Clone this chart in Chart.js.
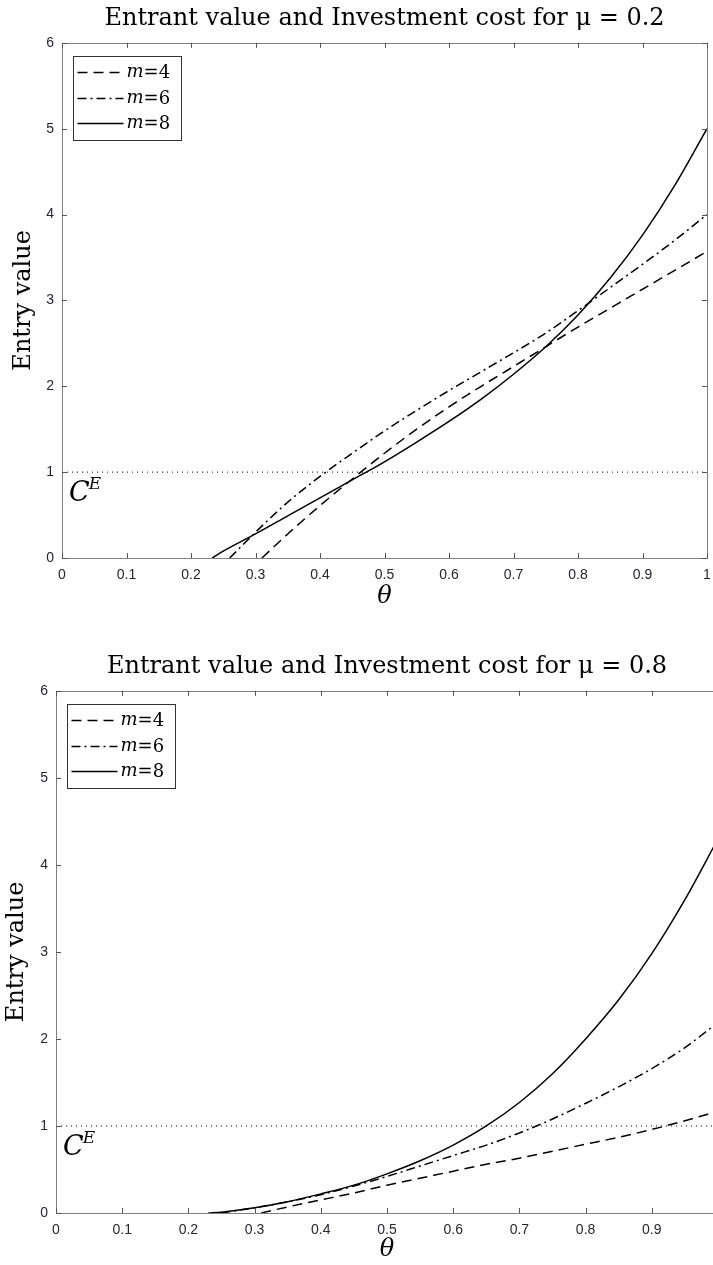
<!DOCTYPE html>
<html>
<head>
<meta charset="utf-8">
<title>Entrant value and Investment cost</title>
<script src="https://cdn.jsdelivr.net/npm/chart.js@4.4.1/dist/chart.umd.min.js"></script>
<style>
    html, body { margin: 0; padding: 0; background: #ffffff; overflow: hidden; }
    #page { position: relative; width: 713px; height: 1265px; overflow: hidden; }
    #topBox { position: absolute; left: 0; top: 0; }
    #bottomBox { position: absolute; left: 0; top: 648px; }
</style>
</head>
<body>
<div id="page">
    <div id="topBox"><canvas id="topChart" width="713" height="613"></canvas></div>
    <div id="bottomBox"><canvas id="bottomChart" width="725" height="617"></canvas></div>
</div>

<script>
// ── Data ─────────────────────────────────────────────────────
const seriesLabels = ['m=4', 'm=6', 'm=8'];
const xTickValues  = [0, 0.1, 0.2, 0.3, 0.4, 0.5, 0.6, 0.7, 0.8, 0.9, 1];
const yTickValues  = [0, 1, 2, 3, 4, 5, 6];
const ceLevel      = 1;            // investment cost C^E
const ceRange      = [0, 1];       // theta span of the dotted cost line

// mu = 0.2
const thetaM4Mu02 = [0.31, 0.35, 0.4, 0.45, 0.5, 0.55, 0.6, 0.65, 0.7, 0.75, 0.8, 0.85, 0.9, 0.95, 1.0];
const valueM4Mu02 = [0, 0.28, 0.61, 0.92, 1.22, 1.5, 1.76, 2.0, 2.23, 2.46, 2.69, 2.91, 3.13, 3.35, 3.57];
const thetaM6Mu02 = [0.26, 0.3, 0.35, 0.4, 0.45, 0.5, 0.55, 0.6, 0.65, 0.7, 0.75, 0.8, 0.85, 0.9, 0.95, 1.0];
const valueM6Mu02 = [0, 0.3, 0.65, 0.95, 1.22, 1.48, 1.72, 1.95, 2.17, 2.39, 2.62, 2.88, 3.15, 3.42, 3.7, 4.0];
const thetaM8Mu02 = [0.233, 0.25, 0.3, 0.35, 0.4, 0.45, 0.5, 0.55, 0.6, 0.65, 0.7, 0.75, 0.8, 0.85, 0.9, 0.95, 1.0];
const valueM8Mu02 = [0, 0.08, 0.28, 0.49, 0.7, 0.91, 1.12, 1.35, 1.59, 1.85, 2.14, 2.46, 2.83, 3.26, 3.76, 4.34, 5.0];

// mu = 0.8
const thetaM4Mu08 = [0.31, 0.35, 0.4, 0.45, 0.5, 0.55, 0.6, 0.65, 0.7, 0.75, 0.8, 0.85, 0.9, 0.95, 1.0];
const valueM4Mu08 = [0, 0.07, 0.15, 0.23, 0.32, 0.4, 0.48, 0.56, 0.63, 0.71, 0.79, 0.87, 0.96, 1.06, 1.17];
const thetaM6Mu08 = [0.25, 0.3, 0.35, 0.4, 0.45, 0.5, 0.55, 0.6, 0.65, 0.7, 0.75, 0.8, 0.85, 0.9, 0.95, 1.0];
const valueM6Mu08 = [0, 0.06, 0.13, 0.21, 0.31, 0.42, 0.54, 0.66, 0.78, 0.92, 1.08, 1.26, 1.45, 1.66, 1.9, 2.19];
const thetaM8Mu08 = [0.23, 0.25, 0.3, 0.35, 0.4, 0.45, 0.5, 0.55, 0.6, 0.65, 0.7, 0.75, 0.8, 0.85, 0.9, 0.95, 1.0];
const valueM8Mu08 = [0, 0.01, 0.06, 0.13, 0.22, 0.32, 0.45, 0.6, 0.78, 1.0, 1.27, 1.6, 2.0, 2.45, 2.98, 3.6, 4.3];

// ── Styles ───────────────────────────────────────────────────
const SERIF  = '"DejaVu Serif", "Liberation Serif", serif';
const SANS   = '"Liberation Sans", Arial, sans-serif';
const dashes = [[10, 6], [9, 4, 2, 4], []];

function toPoints(xs, ys) {
    return xs.map(function (x, i) { return { x: x, y: ys[i] }; });
}

/**
 * MATLAB-like frame: grey box, inward ticks on all four sides,
 * boxed legend in the top-left corner and the C^E label.
 */
const matlabFrame = {
    id: 'matlabFrame',
    afterDatasetsDraw(chart) {
        const ctx = chart.ctx;
        const a   = chart.chartArea;
        const xs  = chart.scales.x;
        const ys  = chart.scales.y;
        const tl  = 5;

        ctx.save();
        ctx.strokeStyle = '#808080';
        ctx.lineWidth = 1;
        ctx.setLineDash([]);
        ctx.strokeRect(Math.round(a.left) + 0.5, Math.round(a.top) + 0.5,
                       Math.round(a.right - a.left), Math.round(a.bottom - a.top));

        ctx.strokeStyle = '#555555';
        ctx.beginPath();
        xs.ticks.forEach(function (t) {
            const px = Math.round(xs.getPixelForValue(t.value)) + 0.5;
            ctx.moveTo(px, a.bottom); ctx.lineTo(px, a.bottom - tl);
            ctx.moveTo(px, a.top);    ctx.lineTo(px, a.top + tl);
        });
        ys.ticks.forEach(function (t) {
            const py = Math.round(ys.getPixelForValue(t.value)) + 0.5;
            ctx.moveTo(a.left, py);  ctx.lineTo(a.left + tl, py);
            ctx.moveTo(a.right, py); ctx.lineTo(a.right - tl, py);
        });
        ctx.stroke();

        // legend
        const lx = Math.round(a.left) + 11.5, ly = Math.round(a.top) + 13.5;
        const lw = 108, lh = 84;
        ctx.fillStyle = '#ffffff';
        ctx.fillRect(lx, ly, lw, lh);
        ctx.strokeStyle = '#333333';
        ctx.strokeRect(lx, ly, lw, lh);

        const rows = [16, 42, 67];
        chart.data.datasets.forEach(function (ds, i) {
            if (!ds.inLegend) return;
            const ry = ly + rows[i];
            ctx.strokeStyle = '#000000';
            ctx.lineWidth = 1.6;
            ctx.setLineDash(ds.borderDash);
            ctx.beginPath();
            ctx.moveTo(lx + 4, ry); ctx.lineTo(lx + 50, ry);
            ctx.stroke();
            ctx.setLineDash([]);

            ctx.fillStyle = '#000000';
            ctx.textBaseline = 'middle';
            ctx.font = 'italic 18px ' + SERIF;
            ctx.fillText('m', lx + 53, ry);
            const w = ctx.measureText('m').width;
            ctx.font = '18px ' + SERIF;
            ctx.fillText(ds.label.slice(1), lx + 53 + w, ry + 1);
        });

        // C^E label under the cost line
        const cy = ys.getPixelForValue(ceLevel) + 29;
        const cx = a.left + 7;
        ctx.fillStyle = '#000000';
        ctx.textBaseline = 'alphabetic';
        ctx.font = 'italic 27px ' + SERIF;
        ctx.fillText('C', cx, cy);
        const cw = ctx.measureText('C').width;
        ctx.font = 'italic 17px ' + SERIF;
        ctx.fillText('E', cx + cw - 1, cy - 12);
        ctx.restore();
    }
};

function buildChart(canvasId, mu, series, opts) {
    const datasets = series.map(function (s, i) {
        return {
            label: seriesLabels[i],
            data: toPoints(s[0], s[1]),
            borderColor: '#000000',
            borderWidth: 1.5,
            borderDash: dashes[i],
            pointRadius: 0,
            cubicInterpolationMode: 'monotone',
            fill: false,
            inLegend: true,
        };
    });
    datasets.push({
        label: 'CE',
        data: toPoints(ceRange, [ceLevel, ceLevel]),
        borderColor: '#000000',
        borderWidth: 1,
        borderDash: [1, 4],
        pointRadius: 0,
        fill: false,
        inLegend: false,
    });

    return new Chart(document.getElementById(canvasId), {
        type: 'line',
        data: { datasets: datasets },
        options: {
            responsive: false,
            animation: false,
            events: [],
            layout: { padding: { left: 0, right: opts.padRight, top: 0, bottom: 0 } },
            plugins: {
                legend: { display: false },
                tooltip: { enabled: false },
                title: {
                    display: true,
                    fullSize: false,
                    text: 'Entrant value and Investment cost for μ = ' + mu,
                    color: '#000000',
                    font: { family: SERIF, size: 24, weight: 'normal' },
                    padding: { top: 4, bottom: 10 },
                },
            },
            scales: {
                x: {
                    type: 'linear',
                    min: 0,
                    max: 1,
                    grid: { display: false, drawTicks: false },
                    border: { display: false },
                    afterBuildTicks: function (scale) {
                        scale.ticks = xTickValues.map(function (v) { return { value: v }; });
                    },
                    ticks: {
                        color: '#262630',
                        padding: 9,
                        maxRotation: 0,
                        autoSkip: false,
                        font: { family: SANS, size: 14 },
                        callback: function (v) { return String(Number(v.toFixed(1))); },
                    },
                    title: {
                        display: true,
                        text: 'θ',
                        color: '#000000',
                        font: { family: SERIF, size: 24, style: 'italic' },
                        padding: { top: 0, bottom: opts.xTitleBottom },
                    },
                    afterFit: function (scale) {
                        scale.height = opts.xAxisHeight;
                        scale.paddingLeft = 0;
                        scale.paddingRight = 0;
                    },
                },
                y: {
                    type: 'linear',
                    min: 0,
                    max: 6,
                    grid: { display: false, drawTicks: false },
                    border: { display: false },
                    afterBuildTicks: function (scale) {
                        scale.ticks = yTickValues.map(function (v) { return { value: v }; });
                    },
                    ticks: {
                        color: '#262630',
                        padding: 8,
                        font: { family: SANS, size: 14 },
                    },
                    title: {
                        display: true,
                        text: 'Entry value',
                        color: '#000000',
                        font: { family: SERIF, size: 24 },
                        padding: { top: opts.yTitleTop, bottom: 0 },
                    },
                    afterFit: function (scale) {
                        scale.width = opts.yAxisWidth;
                    },
                },
            },
        },
        plugins: [matlabFrame],
    });
}

buildChart('topChart', '0.2', [
    [thetaM4Mu02, valueM4Mu02],
    [thetaM6Mu02, valueM6Mu02],
    [thetaM8Mu02, valueM8Mu02],
], { padRight: 6, yAxisWidth: 62, xAxisHeight: 55, yTitleTop: 9, xTitleBottom: 2 });

buildChart('bottomChart', '0.8', [
    [thetaM4Mu08, valueM4Mu08],
    [thetaM6Mu08, valueM6Mu08],
    [thetaM8Mu08, valueM8Mu08],
], { padRight: 7, yAxisWidth: 56, xAxisHeight: 52, yTitleTop: 2, xTitleBottom: 1 });
</script>
</body>
</html>
